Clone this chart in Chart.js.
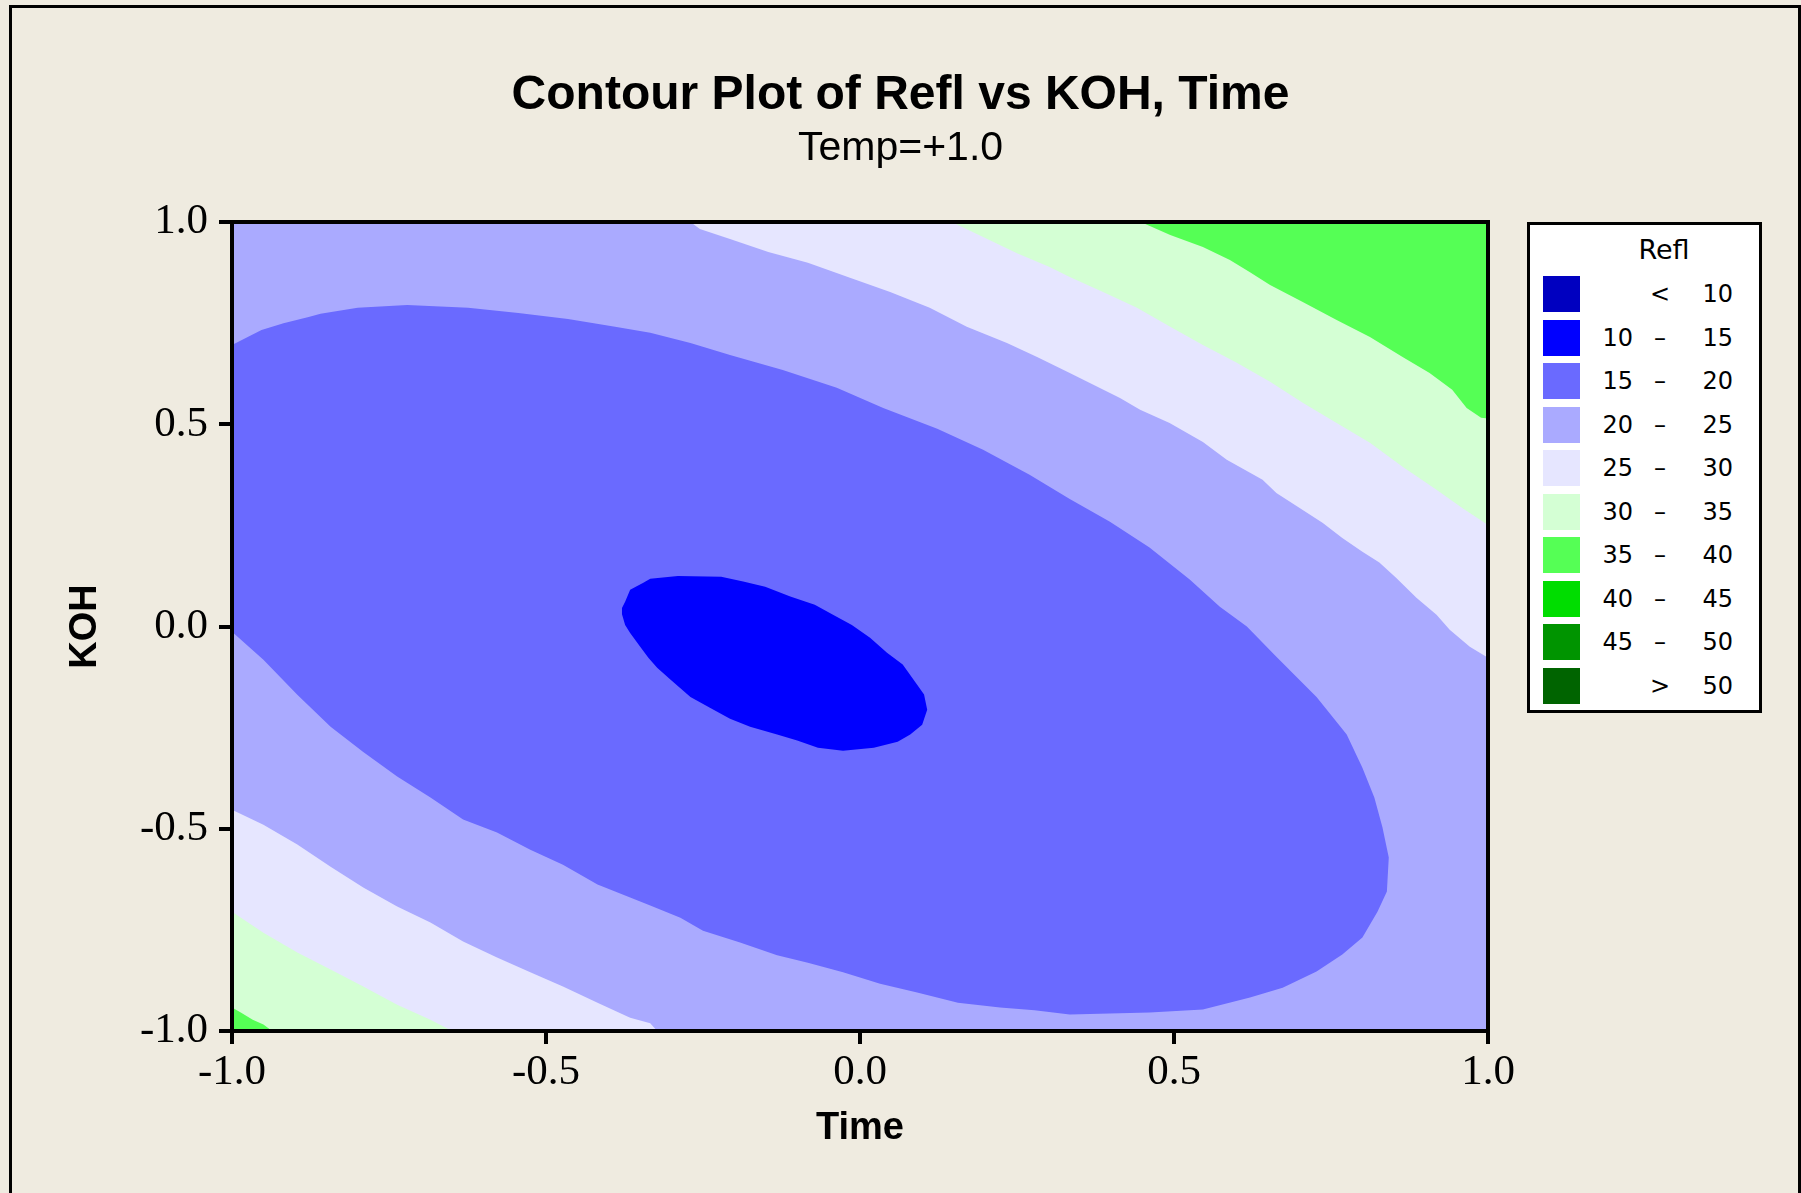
<!DOCTYPE html>
<html lang="en">
<head>
<meta charset="UTF-8" />
<title>Contour Plot of Refl vs KOH, Time</title>
<script src="https://cdn.jsdelivr.net/npm/chart.js"></script>
<style>
  html, body { margin: 0; padding: 0; }
  body {
    width: 1801px;
    height: 1193px;
    overflow: hidden;
    position: relative;
    background: #efebe0;
    font-family: "DejaVu Sans", sans-serif;
  }
  #chart { position: absolute; left: 0; top: 0; }
  #frame {
    position: absolute;
    left: 9px; top: 5px;
    width: 1792px; height: 1300px;
    border: 3px solid #000;
    box-sizing: border-box;
    pointer-events: none;
  }
  #legend {
    position: absolute;
    left: 1527px; top: 222px;
    width: 235px; height: 491px;
    box-sizing: border-box;
    border: 3px solid #000;
    background: #fff;
  }
  #legend div { position: absolute; line-height: 1; color: #000; white-space: nowrap; }
</style>
</head>
<body>
<canvas id="chart" width="1801" height="1193"></canvas>
<div id="legend"></div>
<div id="frame"></div>

<script>
// tick labels
const xTickValues = [-1, -0.5, 0, 0.5, 1];
const xTickLabels = ['-1.0', '-0.5', '0.0', '0.5', '1.0'];
const yTickValues = [-1, -0.5, 0, 0.5, 1];
const yTickLabels = ['-1.0', '-0.5', '0.0', '0.5', '1.0'];

// legend levels of Refl
const levelColors = ['#0000c0', '#0000ff', '#6a6aff', '#aaaaff', '#e6e6ff', '#d4ffd4', '#55ff55', '#00dd00', '#009400', '#006400'];
const levelLow  = ['', '10', '15', '20', '25', '30', '35', '40', '45', ''];
const levelSep  = ['<', '–', '–', '–', '–', '–', '–', '–', '–', '>'];
const levelHigh = ['10', '15', '20', '25', '30', '35', '40', '45', '50', '50'];

// contour regions, (Time, KOH) pairs
const plotFrame = [[-1, -1], [1, -1], [1, 1], [-1, 1]];

const upper25 = [
  [-0.270, 1.000], [-0.255, 0.983], [-0.207, 0.958], [-0.146, 0.926], [-0.083, 0.899],
  [-0.016, 0.862], [0.048, 0.827], [0.111, 0.788], [0.170, 0.741], [0.234, 0.701],
  [0.282, 0.666], [0.334, 0.627], [0.414, 0.565], [0.446, 0.536], [0.493, 0.503],
  [0.546, 0.456], [0.584, 0.412], [0.641, 0.363], [0.663, 0.330], [0.705, 0.288],
  [0.737, 0.256], [0.768, 0.219], [0.800, 0.185], [0.827, 0.158], [0.854, 0.120],
  [0.886, 0.071], [0.918, 0.029], [0.939, -0.008], [0.971, -0.050], [1.000, -0.077],
  [1.000, 1.000]
];

const upper30 = [
  [0.146, 1.000], [0.196, 0.963], [0.250, 0.923], [0.302, 0.889], [0.334, 0.864],
  [0.387, 0.827], [0.441, 0.788], [0.494, 0.741], [0.546, 0.696], [0.600, 0.652],
  [0.653, 0.605], [0.705, 0.553], [0.759, 0.503], [0.812, 0.454], [0.864, 0.395],
  [0.918, 0.338], [0.959, 0.293], [1.000, 0.251], [1.000, 1.000]
];

const upper35 = [
  [0.447, 1.000], [0.494, 0.968], [0.546, 0.938], [0.589, 0.906], [0.621, 0.876],
  [0.653, 0.844], [0.705, 0.802], [0.759, 0.758], [0.812, 0.716], [0.864, 0.666],
  [0.907, 0.627], [0.943, 0.585], [0.966, 0.540], [0.989, 0.516], [1.000, 0.514],
  [1.000, 1.000]
];

const lower25 = [
  [-1.000, -0.453], [-0.950, -0.490], [-0.896, -0.539], [-0.843, -0.594], [-0.791, -0.645],
  [-0.737, -0.692], [-0.684, -0.732], [-0.632, -0.779], [-0.578, -0.818], [-0.525, -0.855],
  [-0.473, -0.890], [-0.418, -0.930], [-0.366, -0.967], [-0.334, -0.981], [-0.323, -1.000],
  [-1.000, -1.000]
];

const lower30 = [
  [-1.000, -0.705], [-0.950, -0.757], [-0.896, -0.806], [-0.843, -0.848], [-0.791, -0.890],
  [-0.737, -0.935], [-0.684, -0.972], [-0.657, -0.994], [-0.652, -1.000], [-1.000, -1.000]
];

const lower35 = [
  [-1.000, -0.942], [-0.986, -0.954], [-0.967, -0.972], [-0.950, -0.984], [-0.936, -1.000],
  [-1.000, -1.000]
];

const band15 = [
  [-1.000, 0.696], [-0.953, 0.733], [-0.918, 0.750], [-0.878, 0.765], [-0.859, 0.773],
  [-0.800, 0.788], [-0.721, 0.795], [-0.624, 0.788], [-0.544, 0.775], [-0.465, 0.760],
  [-0.390, 0.741], [-0.334, 0.726], [-0.270, 0.701], [-0.207, 0.671], [-0.123, 0.634],
  [-0.037, 0.590], [0.037, 0.540], [0.123, 0.489], [0.196, 0.437], [0.270, 0.375],
  [0.334, 0.315], [0.398, 0.259], [0.461, 0.195], [0.525, 0.116], [0.573, 0.049],
  [0.616, 0.000], [0.663, -0.075], [0.727, -0.174], [0.775, -0.267], [0.800, -0.349],
  [0.819, -0.423], [0.832, -0.497], [0.842, -0.571], [0.839, -0.655], [0.824, -0.705],
  [0.800, -0.769], [0.768, -0.811], [0.727, -0.853], [0.673, -0.893], [0.621, -0.917],
  [0.546, -0.947], [0.461, -0.954], [0.334, -0.959], [0.278, -0.949], [0.223, -0.942],
  [0.156, -0.930], [0.091, -0.905], [0.032, -0.883], [-0.027, -0.855], [-0.083, -0.831],
  [-0.132, -0.813], [-0.191, -0.781], [-0.250, -0.752], [-0.286, -0.720], [-0.334, -0.690],
  [-0.366, -0.670], [-0.418, -0.638], [-0.473, -0.589], [-0.525, -0.552], [-0.578, -0.509],
  [-0.632, -0.477], [-0.684, -0.423], [-0.737, -0.371], [-0.791, -0.310], [-0.843, -0.248],
  [-0.896, -0.169], [-0.950, -0.082], [-1.000, -0.013]
];

const core10 = [
  [-0.379, 0.030], [-0.379, 0.046], [-0.374, 0.061], [-0.366, 0.091], [-0.345, 0.108],
  [-0.334, 0.118], [-0.290, 0.125], [-0.221, 0.123], [-0.186, 0.111], [-0.151, 0.098],
  [-0.111, 0.074], [-0.072, 0.054], [-0.043, 0.029], [-0.013, 0.004], [0.016, -0.028],
  [0.043, -0.065], [0.068, -0.094], [0.091, -0.144], [0.102, -0.168], [0.107, -0.206],
  [0.099, -0.243], [0.080, -0.267], [0.060, -0.285], [0.022, -0.300], [-0.027, -0.307],
  [-0.067, -0.300], [-0.100, -0.282], [-0.132, -0.267], [-0.175, -0.248], [-0.207, -0.228],
  [-0.239, -0.201], [-0.270, -0.174], [-0.302, -0.131], [-0.323, -0.102], [-0.337, -0.077],
  [-0.350, -0.050], [-0.366, -0.016], [-0.374, 0.004]
];

// bottom to top
const layers = [
  { label: '20 - 25', level: 3, pts: plotFrame },
  { label: '25 - 30', level: 4, pts: upper25 },
  { label: '30 - 35', level: 5, pts: upper30 },
  { label: '35 - 40', level: 6, pts: upper35 },
  { label: '25 - 30', level: 4, pts: lower25 },
  { label: '30 - 35', level: 5, pts: lower30 },
  { label: '35 - 40', level: 6, pts: lower35 },
  { label: '15 - 20', level: 2, pts: band15 },
  { label: '10 - 15', level: 1, pts: core10 }
];

const datasets = layers.map((l, i) => ({
  label: l.label,
  data: l.pts.map(p => ({ x: p[0], y: p[1] })),
  backgroundColor: levelColors[l.level],
  borderColor: levelColors[l.level],
  borderWidth: 0,
  pointRadius: 0,
  pointHoverRadius: 0,
  tension: 0,
  fill: 'shape',
  order: layers.length - i
}));

const black = '#000';
const tickFont = { family: 'Liberation Serif', size: 43 };
const axisTitleFont = { family: 'Liberation Sans', size: 38, weight: 'bold', lineHeight: 1.2 };
// axis lines and tick marks drawn over the filled regions
const frameBorder = () => ({ display: true, width: 4, color: black, z: 1 });
const tickMarks = () => ({
  display: true, drawOnChartArea: false, drawTicks: true, tickLength: 13,
  lineWidth: 4, tickWidth: 4, color: black, tickColor: black, z: 1
});

new Chart(document.getElementById('chart'), {
  type: 'line',
  data: { datasets },
  options: {
    responsive: false,
    animation: false,
    events: [],
    layout: { padding: 0 },
    plugins: {
      legend: { display: false },
      tooltip: { enabled: false },
      title: {
        display: true,
        text: 'Contour Plot of Refl vs KOH, Time',
        color: black,
        font: { family: 'Liberation Sans', size: 48, weight: 'bold', lineHeight: 1 },
        padding: { top: 71.5, bottom: 0 }
      },
      subtitle: {
        display: true,
        text: 'Temp=+1.0',
        color: black,
        font: { family: 'Liberation Sans', size: 41, lineHeight: 1 },
        padding: { top: 8.7, bottom: 0 }
      }
    },
    scales: {
      x: {
        type: 'linear', position: 'bottom', min: -1, max: 1,
        afterBuildTicks: s => { s.ticks = xTickValues.map(v => ({ value: v })); },
        afterFit: s => { s.height = 162; },
        grid: tickMarks(),
        border: frameBorder(),
        ticks: { color: black, padding: 3, maxRotation: 0, autoSkip: false, font: tickFont,
                 callback: (v, i) => xTickLabels[i] },
        title: { display: true, text: 'Time', color: black, font: axisTitleFont, padding: { top: 0, bottom: 42 } }
      },
      y: {
        type: 'linear', position: 'left', min: -1, max: 1,
        afterBuildTicks: s => { s.ticks = yTickValues.map(v => ({ value: v })); },
        afterFit: s => { s.width = 232; },
        grid: tickMarks(),
        border: frameBorder(),
        ticks: { color: black, padding: 11, autoSkip: false, font: tickFont,
                 callback: (v, i) => yTickLabels[i] },
        title: { display: true, text: 'KOH', color: black, font: axisTitleFont, padding: { top: 63, bottom: 0 } }
      },
      x2: {
        type: 'linear', position: 'top', min: -1, max: 1,
        afterFit: s => { s.height = 52.8; },
        grid: { display: false, z: 1 },
        ticks: { display: false },
        border: frameBorder()
      },
      y2: {
        type: 'linear', position: 'right', min: -1, max: 1,
        afterFit: s => { s.width = 313; },
        grid: { display: false, z: 1 },
        ticks: { display: false },
        border: frameBorder()
      }
    }
  }
});

// legend box (page coords minus the inner corner of the box)
const legend = document.getElementById('legend');
const inX = 1530, inY = 225;
function addText(text, left, centerY, width, align, size, family) {
  const d = document.createElement('div');
  d.textContent = text;
  d.style.left = (left - inX) + 'px';
  d.style.top = (centerY - size / 2 - inY) + 'px';
  d.style.width = width + 'px';
  d.style.textAlign = align;
  d.style.fontSize = size + 'px';
  d.style.fontFamily = family;
  legend.appendChild(d);
}
addText('Refl', 1624, 249, 80, 'center', 27, '"DejaVu Sans"');
levelColors.forEach((c, i) => {
  const cy = 294 + i * 43.5;
  const sw = document.createElement('div');
  sw.style.left = (1543 - inX) + 'px';
  sw.style.top = (cy - 18 - inY) + 'px';
  sw.style.width = '37px';
  sw.style.height = '36px';
  sw.style.background = c;
  legend.appendChild(sw);
  addText(levelLow[i], 1573, cy, 60, 'right', 24, '"DejaVu Sans"');
  addText(levelSep[i], 1645, cy, 30, 'center', 24, '"DejaVu Sans"');
  addText(levelHigh[i], 1673, cy, 60, 'right', 24, '"DejaVu Sans"');
});
</script>
</body>
</html>
